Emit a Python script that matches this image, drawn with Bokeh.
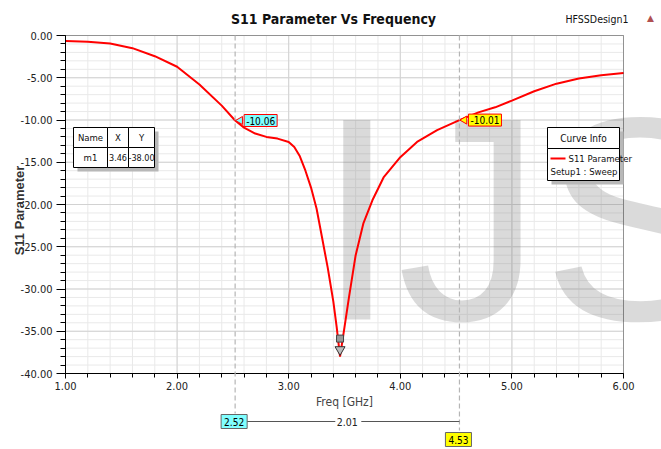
import numpy as np
from bokeh.plotting import figure
from bokeh.models import (Label, BoxAnnotation, Arrow, NumeralTickFormatter,
                          FixedTicker, Range1d)
from bokeh.core.properties import value
from bokeh.embed import file_html
from bokeh.resources import INLINE

# ---------------- data ----------------
freq_ghz = [1.0, 1.2, 1.4, 1.6, 1.8, 2.0, 2.2, 2.4, 2.52, 2.6, 2.7, 2.8, 2.9,
            3.0, 3.05, 3.1, 3.15, 3.2, 3.25, 3.3, 3.35, 3.4, 3.43, 3.46, 3.5,
            3.54, 3.6, 3.67, 3.75, 3.85, 4.0, 4.15, 4.33, 4.53, 4.7, 4.85,
            5.0, 5.2, 5.4, 5.6, 5.8, 6.0]
s11_db = [-0.65, -0.75, -0.95, -1.5, -2.45, -3.7, -5.8, -8.3, -10.06, -10.9,
          -11.6, -12.0, -12.2, -12.6, -13.2, -14.3, -16.0, -18.0, -20.5,
          -24.0, -27.5, -31.5, -34.5, -38.0, -34.5, -31.0, -26.0, -22.2,
          -19.5, -16.8, -14.4, -12.6, -11.2, -10.01, -9.1, -8.5, -7.7, -6.6,
          -5.7, -5.1, -4.7, -4.45]
marker_x = [2.52, 4.53]
marker_y = [-10.06, -10.01]
marker_colors = ["#80ffff", "#ffff00"]
m1_name, m1_x, m1_y = "m1", 3.46, -38.00
x_ticks = [1, 2, 3, 4, 5, 6]
y_ticks = [0, -5, -10, -15, -20, -25, -30, -35, -40]
x_minor = [round(1 + 0.2 * i, 2) for i in range(26)]
y_minor = list(range(-40, 1))
X0, X1, Y0, Y1 = 1, 6, -40, 0

# ---------------- layout ----------------
W, H = 661, 449
L, R, T, B = 65, 38, 35, 76
XPX = (W - L - R) / (X1 - X0)
YPX = (H - T - B) / (Y1 - Y0)
NARROW = "DejaVu Sans Condensed"


def dx(px):
    return X0 + (px - L) / XPX


def dy(py):
    return Y1 - (py - T) / YPX


p = figure(width=W, height=H,
           x_range=Range1d(dx(0), dx(W)), y_range=Range1d(dy(H), dy(0)),
           output_backend="svg", toolbar_location=None, title=None,
           min_border=0)
p.background_fill_color = "white"
p.border_fill_color = "white"
p.outline_line_color = None

xt = FixedTicker(ticks=x_ticks, minor_ticks=x_minor)
yt = FixedTicker(ticks=y_ticks, minor_ticks=y_minor)
p.xaxis.ticker = xt
p.yaxis.ticker = yt
p.xaxis.fixed_location = Y0
p.yaxis.fixed_location = X0
p.xaxis.bounds = (X0, X1)
p.yaxis.bounds = (Y0, Y1)

# grid restricted to the data area
p.xgrid.visible = False
p.ygrid.visible = False
p.segment(x_minor, [Y0] * len(x_minor), x_minor, [Y1] * len(x_minor),
          line_color="#e9e9e9", line_width=1)
p.segment([X0] * len(y_minor), y_minor, [X1] * len(y_minor), y_minor,
          line_color="#e9e9e9", line_width=1)
p.segment(x_ticks, [Y0] * len(x_ticks), x_ticks, [Y1] * len(x_ticks),
          line_color="#d2d2d2", line_width=1)
p.segment([X0] * len(y_ticks), y_ticks, [X1] * len(y_ticks), y_ticks,
          line_color="#d2d2d2", line_width=1)

p.xaxis.formatter = NumeralTickFormatter(format="0.00")
p.yaxis.formatter = NumeralTickFormatter(format="0.00")
for ax in (p.xaxis, p.yaxis):
    ax.major_label_text_font = NARROW
    ax.major_label_text_font_size = "11px"
    ax.major_label_text_color = "#222222"
    ax.axis_line_color = "black"
    ax.major_tick_line_color = "black"
    ax.minor_tick_line_color = "black"
    ax.major_tick_in = 0
    ax.minor_tick_in = 0
p.yaxis.major_tick_out = 9
p.yaxis.minor_tick_out = 5
p.yaxis.major_label_standoff = 4
p.xaxis.major_tick_out = 5
p.xaxis.minor_tick_out = 4
p.xaxis.major_label_standoff = 3
p.xaxis.axis_label = "Freq [GHz]"
p.xaxis.axis_label_text_font = NARROW
p.xaxis.axis_label_text_font_style = "normal"
p.xaxis.axis_label_text_font_size = "12px"
p.xaxis.axis_label_standoff = 2
p.yaxis.axis_label = None

# y axis title
p.add_layout(Label(x=dx(19), y=dy(210), text="S11 Parameter", angle=np.pi / 2,
                   text_font="Liberation Sans", text_font_style="bold",
                   text_font_size="13px", text_color="#333333",
                   text_align="center", text_baseline="middle"))

# watermark
p.text(x=[dx(316)], y=[dy(218)], text=["IJS"], text_font=value("Liberation Sans"),
       text_font_size=value("290px"), text_color="#7a7a7a", text_alpha=0.28,
       text_baseline="alphabetic", text_align="left")

# frame
p.add_layout(BoxAnnotation(left=X0, right=X1, top=Y1, bottom=Y0, fill_alpha=0,
                           line_color="black", line_width=1))

# curve
p.line(freq_ghz, s11_db, line_color="red", line_width=2)

# marker dashed lines
ends = [dy(413), dy(430)]
for mx, ye in zip(marker_x, ends):
    p.add_layout(Arrow(end=None, x_start=mx, y_start=Y1, x_end=mx, y_end=ye,
                       line_color="#b5b5b5", line_width=1.2, line_dash="5 3"))

# marker value labels with pointer
for mx, my, c in zip(marker_x, marker_y, marker_colors):
    p.scatter([mx + 5 / XPX], [my], marker="triangle", angle=np.pi / 2,
              size=8, fill_color=c, line_color="red", level="overlay")
    p.add_layout(Label(x=mx, y=my, x_offset=9, text=f"{my:.2f}",
                       text_font=NARROW, text_font_size="10px",
                       text_baseline="middle", text_color="black",
                       background_fill_color=c, border_line_color="red",
                       border_line_width=1, padding=2))

# m1 marker
p.scatter([m1_x], [m1_y + 7 / YPX], marker="inverted_triangle", size=10,
          fill_color="#bbbbbb", line_color="#333333", level="overlay")
p.scatter([m1_x], [m1_y + 18 / YPX], marker="square", size=7,
          fill_color="#999999", line_color="#444444", level="overlay")

# bottom delta annotation
yb1 = dy(421)
mid = (marker_x[0] + marker_x[1]) / 2
p.add_layout(Arrow(end=None, x_start=marker_x[0], y_start=yb1, x_end=mid - 12 / XPX,
                   y_end=yb1, line_color="#555555", line_width=1))
p.add_layout(Arrow(end=None, x_start=mid + 14 / XPX, y_start=yb1, x_end=marker_x[1],
                   y_end=yb1, line_color="#555555", line_width=1))
p.add_layout(Label(x=mid, y=yb1, text=f"{marker_x[1] - marker_x[0]:.2f}",
                   text_font=NARROW, text_font_size="10.5px", text_align="center",
                   text_baseline="middle", text_color="#222222"))
for mx, ypx, c in zip(marker_x, [421, 439], marker_colors):
    p.add_layout(Label(x=mx, y=dy(ypx), x_offset=-1, text=f"{mx:.2f}",
                       text_font=NARROW, text_font_size="10px", text_align="center",
                       text_baseline="middle", text_color="black",
                       background_fill_color=c, border_line_color="#666666",
                       border_line_width=1, padding=3))


def box(l, r, t, b, fill="white", line="black", alpha=1.0):
    p.add_layout(BoxAnnotation(left=dx(l), right=dx(r), top=dy(t), bottom=dy(b),
                               fill_color=fill, fill_alpha=alpha, line_color=line,
                               line_width=1, line_alpha=1 if line else 0))


def txt(x, y, s, align="center", size="9.5px"):
    p.add_layout(Label(x=dx(x), y=dy(y), text=s, text_font=NARROW,
                       text_font_size=size, text_align=align,
                       text_baseline="middle", text_color="#111111"))


# marker table
box(77, 158, 131, 171, fill="#b8b8b8", line=None)
box(73, 107, 127, 147)
box(107, 128, 127, 147)
box(128, 154, 127, 147)
box(73, 107, 147, 167)
box(107, 128, 147, 167)
box(128, 154, 147, 167)
txt(90, 137, "Name")
txt(117.5, 137, "X")
txt(141, 137, "Y")
txt(90, 157, m1_name)
txt(117.5, 157, f"{m1_x:.2f}", size="9px")
txt(141, 157, f"{m1_y:.2f}", size="9px")

# curve info legend
box(551, 623, 131, 184, fill="#b8b8b8", line=None)
box(547, 619, 127, 148)
box(547, 619, 148, 180)
txt(583, 138, "Curve Info", size="10px")
p.add_layout(Arrow(end=None, x_start=dx(550), y_start=dy(158), x_end=dx(565),
                   y_end=dy(158), line_color="red", line_width=2))
txt(568, 158, "S11 Parameter", align="left", size="9.5px")
txt(550, 171, "Setup1 : Sweep", align="left", size="9.5px")

# title and design name
p.add_layout(Label(x=dx(333), y=dy(18), text="S11 Parameter Vs Frequency",
                   text_font=NARROW, text_font_size="14px", text_font_style="bold",
                   text_align="center", text_baseline="middle", text_color="#111111"))
p.add_layout(Label(x=dx(565), y=dy(18), text="HFSSDesign1", text_font=NARROW,
                   text_font_size="10.5px", text_baseline="middle", text_color="#111111"))
p.add_layout(Label(x=dx(650), y=dy(17), text="\u25B2", text_font="DejaVu Sans",
                   text_font_size="9px", text_align="center", text_baseline="middle",
                   text_color="#b05050"))

open("out.html", "w").write(file_html(p, INLINE))
